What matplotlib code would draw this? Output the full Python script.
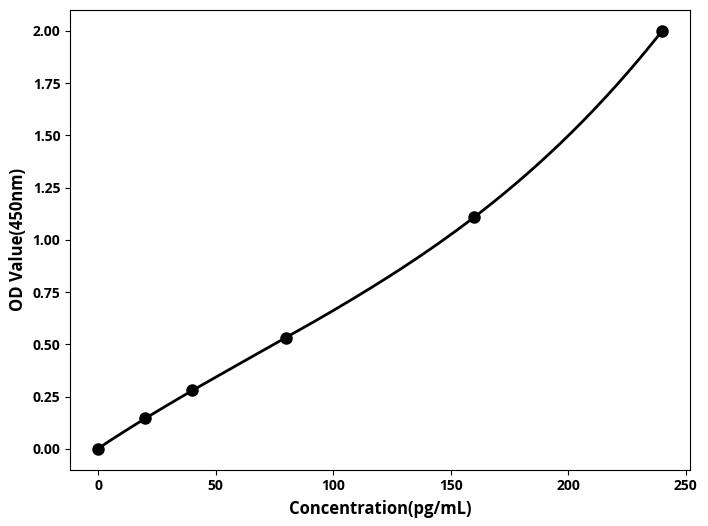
import numpy as np
import matplotlib
matplotlib.use("Agg")
import matplotlib.pyplot as plt

plt.rcParams['font.family'] = ['Open Sans', 'DejaVu Sans']
plt.rcParams['font.weight'] = 'bold'

concentration = [0, 20, 40, 80, 160, 240]
od_value = [0.0, 0.148, 0.281, 0.529, 1.11, 2.0]

x = np.array(concentration, dtype=float)
y = np.array(od_value)

# smooth standard curve from a cubic fit
coef = np.polyfit(x, y, 3)
xs = np.linspace(x.min(), x.max(), 300)
ys = np.polyval(coef, xs)

fig, ax = plt.subplots(figsize=(7.08, 5.26), dpi=100)
ax.plot(xs, ys, color="black", linewidth=2)
ax.scatter(x, y, color="black", s=64, zorder=3)

ax.set_xlabel("Concentration(pg/mL)", fontsize=12, fontweight="bold", labelpad=5)
ax.set_ylabel("OD Value(450nm)", fontsize=12, fontweight="bold", labelpad=4)
ax.set_yticks([0, 0.25, 0.5, 0.75, 1.0, 1.25, 1.5, 1.75, 2.0])
ax.set_yticklabels([f"{t:.2f}" for t in ax.get_yticks()])
for lab in ax.get_xticklabels() + ax.get_yticklabels():
    lab.set_fontweight("bold")
    lab.set_fontsize(10)

fig.subplots_adjust(left=0.099, right=0.975, top=0.981, bottom=0.107)
fig.savefig("out.png")
